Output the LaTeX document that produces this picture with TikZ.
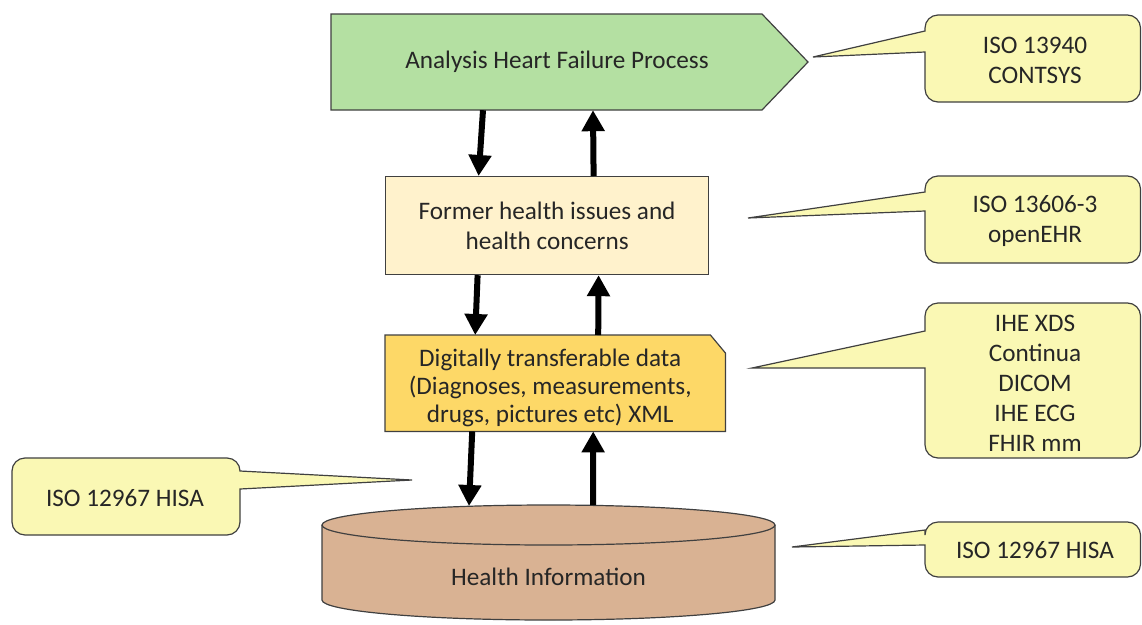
\documentclass[tikz,border=0pt]{standalone}
\usepackage{fontspec}
\setmainfont{Carlito}
\usetikzlibrary{arrows.meta,backgrounds}
\definecolor{procgreen}{HTML}{B4E0A2}
\definecolor{cream}{HTML}{FFF2CC}
\definecolor{golden}{HTML}{FDD867}
\definecolor{tan}{HTML}{D9B293}
\definecolor{calloutyellow}{HTML}{FAF8B4}
\definecolor{edgegray}{HTML}{404040}
\definecolor{textgray}{HTML}{262626}
\begin{document}
\begin{tikzpicture}[x=1pt,y=-1pt,
  txt/.style={font=\fontsize{25.2}{30}\selectfont, text=textgray, align=center, inner sep=0pt},
  outline/.style={draw=edgegray, line width=1.2pt},
  callout/.style={outline, fill=calloutyellow},
  flow/.style={line width=6pt, -{Triangle[width=22pt,length=21pt]}}
]
\begin{scope}[on background layer]
  \fill[white] (0,0) rectangle (1142,624);
\end{scope}
\useasboundingbox (0,0) rectangle (1142,624);

% process step (pentagon arrow)
\draw[outline, fill=procgreen] (331,14) -- (762,14) -- (808,62) -- (762,110) -- (331,110) -- cycle;
\node[txt, minimum width=452pt, minimum height=96pt] (hf) at (557,62) {\raisebox{-2pt}{Analysis Heart Failure Process}};

% health issues box
\node[txt, outline, fill=cream, minimum width=323pt, minimum height=98pt, anchor=north west] (fh) at (385,176)
  {Former health issues and\\health concerns};

% transferable data box with cut corner
\node[minimum width=340pt, minimum height=96pt, inner sep=0pt, anchor=north west] (dt) at (385,335) {};
\draw[outline, fill=golden] (dt.north west) -- ([xshift=-15pt]dt.north east) -- ([yshift=-18pt]dt.north east)
  -- (dt.south east) -- (dt.south west) -- cycle;
\node[txt, font=\fontsize{25.2}{28}\selectfont] (dtlabel) at ([xshift=-5pt,yshift=-5pt]dt.center)
  {Digitally transferable data\\(Diagnoses, measurements,\\drugs, pictures etc) XML};

% database cylinder
\fill[tan] (322,525) -- (322,600) arc[start angle=180, end angle=360, x radius=226.5pt, y radius=20pt] -- (775,525) -- cycle;
\draw[outline] (322,525) -- (322,600) arc[start angle=180, end angle=360, x radius=226.5pt, y radius=20pt] -- (775,525);
\draw[outline, fill=tan] (548.5,525) ellipse[x radius=226.5pt, y radius=20pt];
\coordinate (hitop) at (548.5,505);
\node[txt] (hi) at (548.5,577) {Health Information};

% data flow arrows
\draw[flow] ([xshift=-74pt]hf.south) -- ([xshift=-68.5pt]fh.north);
\draw[flow] ([xshift=46.5pt]fh.north) -- ([xshift=36pt]hf.south);
\draw[flow] ([xshift=-69.5pt]fh.south) -- ([xshift=-80pt]dt.north);
\draw[flow] ([xshift=43pt]dt.north) -- ([xshift=51.5pt]fh.south);
\draw[flow] ([xshift=-83pt]dt.south) -- ([xshift=-79.5pt,yshift=-1pt]hitop);
\draw[flow] ([xshift=44.5pt]hitop) -- ([xshift=38pt]dt.south);

% standards callouts
\draw[callout] (925,52) [rounded corners=13pt] -- (925,102) -- (1140.5,102) -- (1140.5,15) -- (925,15)
  [sharp corners] -- (925,31) -- (813,57) -- cycle;
\node[txt] (c1) at (1035,60) {ISO 13940\\CONTSYS};

\draw[callout] (925,211) [rounded corners=13pt] -- (925,263) -- (1140.5,263) -- (1140.5,176) -- (925,176)
  [sharp corners] -- (925,192) -- (748,218) -- cycle;
\node[txt] (c2) at (1035,221) {ISO 13606-3\\openEHR};

\draw[callout] (925,368) [rounded corners=13pt] -- (925,458) -- (1140.5,458) -- (1140.5,303) -- (925,303)
  [sharp corners] -- (925,331) -- (752,368) -- cycle;
\node[txt] (c3) at (1035,383) {IHE XDS\\Continua\\DICOM\\IHE ECG\\FHIR mm};

\draw[callout] (925,545) [rounded corners=13pt] -- (925,577) -- (1140.5,577) -- (1140.5,522) -- (925,522)
  [sharp corners] -- (925,530) -- (792,547) -- cycle;
\node[txt] (c4) at (1035,550) {ISO 12967 HISA};

\draw[callout] (240,489) [rounded corners=13pt] -- (240,535) -- (12,535) -- (12,458) -- (240,458)
  [sharp corners] -- (240,471) -- (412,480) -- cycle;
\node[txt] (c5) at (125,498) {ISO 12967 HISA};
\end{tikzpicture}
\end{document}
